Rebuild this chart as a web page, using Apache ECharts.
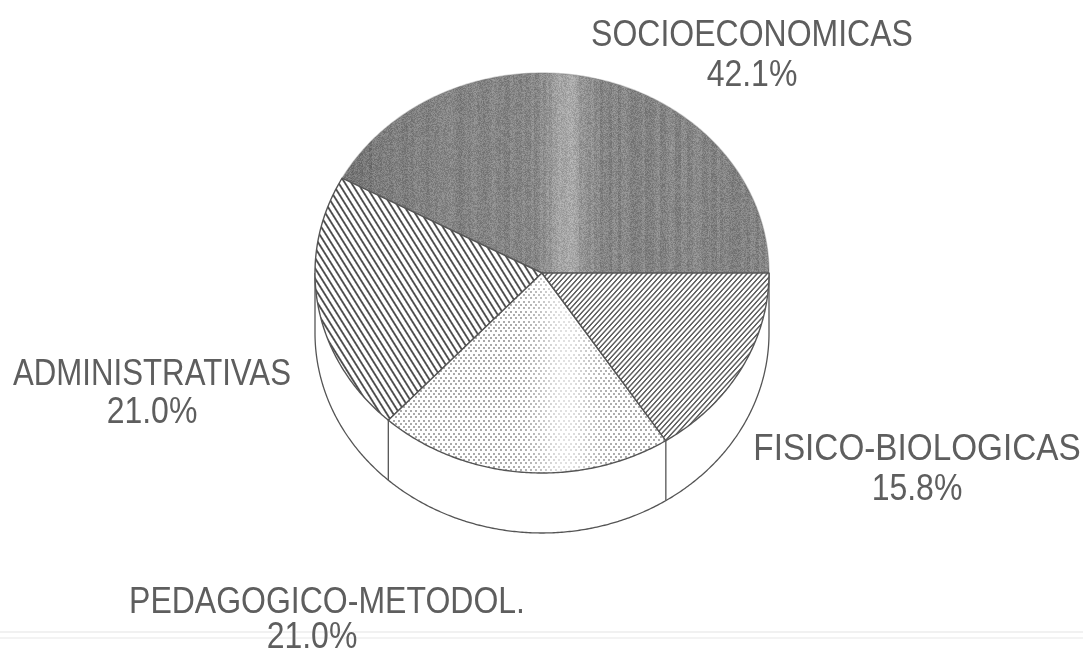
<!DOCTYPE html>
<html>
<head>
<meta charset="utf-8">
<style>html,body{margin:0;padding:0;background:#fff}#c{width:1083px;height:651px}</style>
<script src="https://cdn.jsdelivr.net/npm/echarts@6/dist/echarts.min.js"></script>
</head>
<body>
<div id="c"></div>
<script>
// Data, counter-clockwise from the 3 o'clock direction
const categories = ['SOCIOECONOMICAS', 'ADMINISTRATIVAS', 'PEDAGOGICO-METODOL.', 'FISICO-BIOLOGICAS'];
const shares = [42.1, 21.0, 21.0, 15.8];

// Layout of the labels
const labelCentres = [
  {x: 752, y: 36, px: 752, py: 76, sx: 1},
  {x: 152, y: 375, px: 152, py: 413, sx: 0.975},
  {x: 327, y: 603, px: 312, py: 638, sx: 1},
  {x: 917, y: 450, px: 917, py: 490, sx: 1.04}
];
const W = 1083, H = 651, DEPTH = 0.3;

function clamp(v) { return Math.max(0, Math.min(1, v)); }
function hash(a, b) { const s = Math.sin(a * 12.9898 + b * 78.233) * 43758.5453; return s - Math.floor(s); }
function texture(fn) {
  const cv = document.createElement('canvas');
  cv.width = W; cv.height = H;
  const ctx = cv.getContext('2d');
  const img = ctx.createImageData(W, H);
  for (let y = 0; y < H; y++) for (let x = 0; x < W; x++) {
    const g = fn(x, y), i = (y * W + x) * 4;
    img.data[i] = img.data[i + 1] = img.data[i + 2] = g;
    img.data[i + 3] = 255;
  }
  ctx.putImageData(img, 0, 0);
  return cv;
}
function stripes(phase, width, dark) {
  const f = phase - Math.floor(phase);
  const d = Math.min(f, 1 - f);
  const t = clamp((width - d) * 5 + 0.5);
  return 255 - (255 - dark) * t;
}
const texDark = texture((x, y) => {
  const band = Math.exp(-Math.pow((x - 566) / 22, 2)) * 34;
  const left = clamp((470 - x) / 120) * -14;
  const col = (hash(Math.floor(x / 3), 3) - 0.5) * 14;
  const grain = (hash(x, y) - 0.5) * 36;
  return 132 + band + left + col + grain;
});
const texAdmin = texture((x, y) => stripes((x - y / 1.6) / 6.4, 0.17, 75));
const texFisico = texture((x, y) => stripes((x + y / 1.1) / 5, 0.2, 95));
const texDots = texture((x, y) => {
  const row = Math.floor(y / 3.3);
  const sx = (x + (row % 2 ? 2.5 : 0)) % 5;
  const sy = y - row * 3.3;
  const fade = 1 - 0.65 * Math.exp(-Math.pow((x - 565) / 28, 2));
  const on = (sx < 2 && sy < 2) ? 1 : 0;
  return 255 - on * 85 * fade;
});
const fills = [texDark, texAdmin, texDots, texFisico];

const total = shares.reduce((a, b) => a + b, 0);
const boundaries = [0];
shares.forEach(v => boundaries.push(boundaries[boundaries.length - 1] + v / total * 2 * Math.PI));

function renderSlice(params, api) {
  const i = params.dataIndex;
  const a0 = boundaries[i], a1 = boundaries[i + 1];
  const pts = [api.coord([0, 0])];
  const n = Math.ceil((a1 - a0) / 0.01);
  for (let k = 0; k <= n; k++) {
    const t = a0 + (a1 - a0) * k / n;
    pts.push(api.coord([Math.cos(t), Math.sin(t)]));
  }
  return {
    type: 'polygon',
    shape: {points: pts},
    style: {
      fill: {image: fills[i], repeat: 'repeat'},
      stroke: i === 0 ? 'rgba(110,110,110,0.35)' : '#555555',
      lineWidth: 1.4,
      lineJoin: 'round'
    }
  };
}
function renderWall(params, api) {
  const arc = [];
  for (let k = 0; k <= 360; k++) {
    const t = Math.PI + Math.PI * k / 360;
    arc.push(api.coord([Math.cos(t), Math.sin(t) - DEPTH]));
  }
  const lineStyle = {fill: null, stroke: '#555555', lineWidth: 1.3};
  const children = [{type: 'polyline', shape: {points: arc}, style: lineStyle}];
  [Math.PI, 2 * Math.PI].concat(boundaries.filter(b => Math.sin(b) < -0.01)).forEach(b => {
    const x = Math.cos(b), y = Math.sin(b);
    const p = api.coord([x, y]), q = api.coord([x, y - DEPTH]);
    children.push({type: 'line', shape: {x1: p[0], y1: p[1], x2: q[0], y2: q[1]}, style: lineStyle});
  });
  return {type: 'group', children: children};
}

const textBase = {
  fontFamily: '"Liberation Sans", Arial, sans-serif',
  fontSize: 32,
  fill: '#5e5e5e',
  stroke: '#ffffff',
  lineWidth: 0.7,
  textAlign: 'center',
  textVerticalAlign: 'middle'
};
const labels = [];
categories.forEach((name, i) => {
  const c = labelCentres[i];
  labels.push({type: 'text', x: c.x, y: c.y, scaleX: c.sx, scaleY: 1.14, style: Object.assign({}, textBase, {text: name})});
  labels.push({type: 'text', x: c.px, y: c.py, scaleY: 1.14, style: Object.assign({}, textBase, {text: shares[i].toFixed(1) + '%'})});
});
labels.push({type: 'rect', silent: true, z: -1, shape: {x: 0, y: 631, width: W, height: 2}, style: {fill: '#f1f1f1'}});
labels.push({type: 'rect', silent: true, z: -1, shape: {x: 0, y: 637, width: W, height: 2}, style: {fill: '#f3f3f3'}});

const chart = echarts.init(document.getElementById('c'), null, {renderer: 'canvas'});
chart.setOption({
  animation: false,
  backgroundColor: '#ffffff',
  grid: {left: 315, top: 73, width: 454, height: 460, containLabel: false},
  xAxis: {type: 'value', min: -1, max: 1, show: false},
  yAxis: {type: 'value', min: -1.3, max: 1, show: false},
  tooltip: {show: false},
  graphic: labels,
  series: [
    {type: 'custom', coordinateSystem: 'cartesian2d', renderItem: renderWall, clip: false, silent: true,
     encode: {x: 0, y: 1}, data: [[0, 0]], z: 1},
    {type: 'custom', coordinateSystem: 'cartesian2d', renderItem: renderSlice, clip: false, silent: true,
     encode: {x: 1, y: 2},
     data: shares.map((v, i) => [v, 0, 0]), z: 2}
  ]
});
</script>
</body>
</html>
